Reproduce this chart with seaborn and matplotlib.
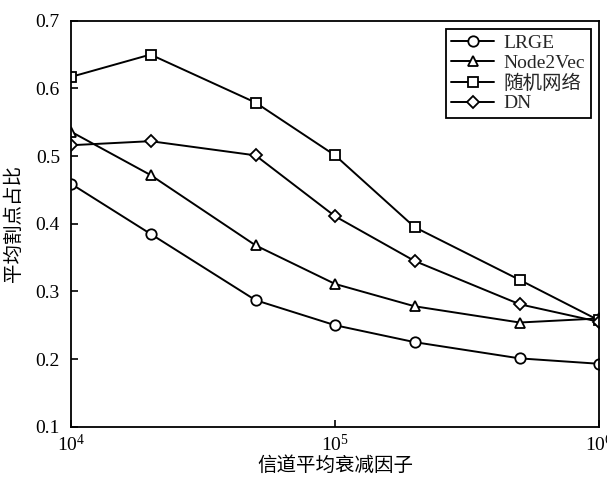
import matplotlib
matplotlib.use("Agg")
import matplotlib.pyplot as plt
import seaborn as sns
import pandas as pd
from matplotlib.ticker import NullLocator, FixedLocator

# Channel average attenuation factor
x_vals = [1e4, 2e4, 5e4, 1e5, 2e5, 5e5, 1e6]

lrge = [0.459, 0.385, 0.287, 0.250, 0.225, 0.201, 0.193]
node2vec = [0.536, 0.472, 0.368, 0.311, 0.278, 0.254, 0.260]
random_net = [0.617, 0.650, 0.579, 0.501, 0.395, 0.317, 0.257]
dn = [0.516, 0.522, 0.501, 0.411, 0.345, 0.281, 0.255]

series_names = ["LRGE", "Node2Vec", "随机网络", "DN"]
series_values = [lrge, node2vec, random_net, dn]
series_markers = ["o", "^", "s", "D"]

y_ticks = [0.1, 0.2, 0.3, 0.4, 0.5, 0.6, 0.7]

sns.set_theme(style="white")
plt.rcParams["font.family"] = ["Liberation Serif", "Noto Sans CJK SC"]
plt.rcParams["mathtext.fontset"] = "custom"
plt.rcParams["mathtext.rm"] = "Liberation Serif"
plt.rcParams["mathtext.it"] = "Liberation Serif:italic"

rows = []
for name, vals in zip(series_names, series_values):
    for xv, yv in zip(x_vals, vals):
        rows.append({"x": xv, "y": yv, "series": name})
df = pd.DataFrame(rows)

fig = plt.figure(figsize=(6.07, 4.82), dpi=100)
ax = fig.add_axes([0.117, 0.1147, 0.870, 0.8423])

for name, mk in zip(series_names, series_markers):
    sub = df[df["series"] == name]
    sns.lineplot(
        data=sub, x="x", y="y", ax=ax, color="black", linewidth=1.4,
        marker=mk, markersize=7.5 if mk != "D" else 6.5,
        markerfacecolor="white", markeredgecolor="black",
        markeredgewidth=1.3, label=name, legend=False,
    )

ax.set_xscale("log")
ax.set_xlim(1e4, 1e6)
ax.set_ylim(0.1, 0.7)
ax.xaxis.set_major_locator(FixedLocator([1e4, 1e5, 1e6]))
ax.xaxis.set_minor_locator(NullLocator())
ax.set_yticks(y_ticks)
ax.set_yticklabels([f"{t:.1f}" for t in y_ticks])

for s in ax.spines.values():
    s.set_color("black")
    s.set_linewidth(1.3)

ax.tick_params(axis="both", which="major", direction="in", length=5,
               width=1.2, labelsize=14, colors="black",
               top=False, right=False, bottom=True, left=True)
ax.tick_params(axis="y", pad=8)
ax.tick_params(axis="x", pad=5)

ax.set_xlabel("信道平均衰减因子", fontsize=14, labelpad=1, color="black")
ax.set_ylabel("平均割点占比", fontsize=14, labelpad=9, color="black")

leg = ax.legend(loc="upper right", fontsize=14, frameon=True, fancybox=False,
                edgecolor="black", framealpha=1, borderpad=0.3,
                handlelength=2.2, handletextpad=0.5, labelspacing=0.12,
                borderaxespad=0.4)
leg.get_frame().set_linewidth(1.3)

fig.savefig("out.png", dpi=100)
